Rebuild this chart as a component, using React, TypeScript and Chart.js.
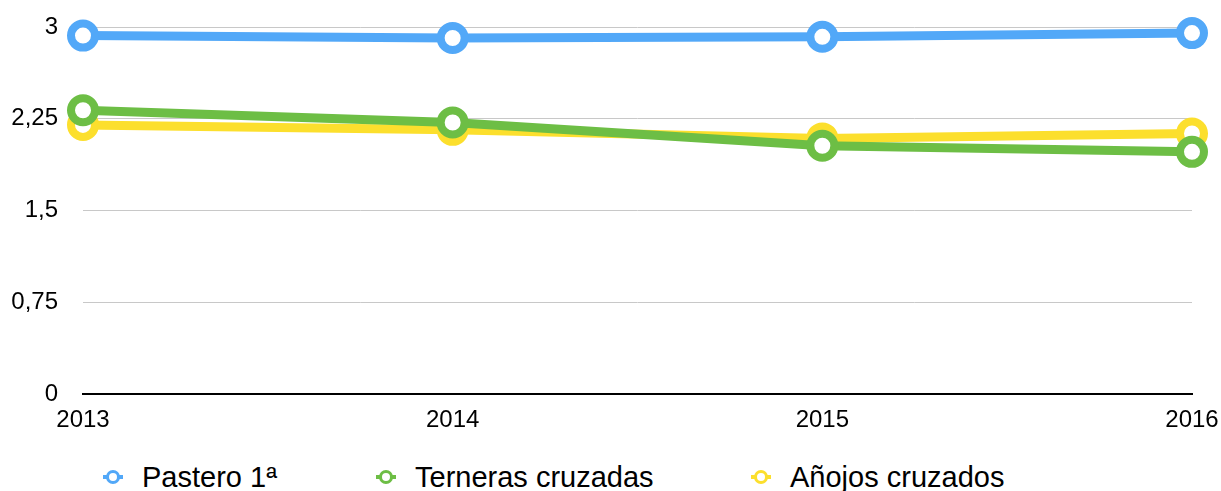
import React, { useEffect, useRef } from "react";
import { Chart, registerables } from "chart.js";

Chart.register(...registerables);

const years = ["2013", "2014", "2015", "2016"];
const pastero = [2.93, 2.91, 2.92, 2.95];
const terneras = [2.32, 2.22, 2.03, 1.98];
const anojos = [2.2, 2.16, 2.09, 2.13];
const seriesNames = ["Pastero 1ª", "Terneras cruzadas", "Añojos cruzados"];
const seriesColors = ["#52A8F8", "#6DBE45", "#FCDF2D"];
const yTicks = [0, 0.75, 1.5, 2.25, 3];

const FONT = "'Liberation Sans', Arial, Helvetica, sans-serif";
const legendTextLeft = [142, 415, 790];

export default function App() {
  const canvasRef = useRef<HTMLCanvasElement | null>(null);

  useEffect(() => {
    if (!canvasRef.current) return;
    const seriesValues = [pastero, terneras, anojos];
    const chart = new Chart(canvasRef.current, {
      type: "line",
      data: {
        labels: years,
        datasets: seriesValues.map((vals, i) => ({
          label: seriesNames[i],
          data: vals,
          borderColor: seriesColors[i],
          backgroundColor: "#ffffff",
          borderWidth: 9,
          pointRadius: 12,
          pointHoverRadius: 12,
          pointBorderWidth: 8,
          pointBackgroundColor: "#ffffff",
          pointBorderColor: seriesColors[i],
          tension: 0,
          fill: false,
          clip: false,
        })),
      },
      options: {
        animation: false,
        responsive: true,
        maintainAspectRatio: false,
        layout: { autoPadding: false, padding: { top: 27, right: 29, bottom: 21, left: 0 } },
        plugins: {
          legend: { display: false },
          tooltip: { enabled: false },
        },
        scales: {
          x: {
            type: "category",
            offset: false,
            grid: { display: false },
            border: { display: true, color: "#000000", width: 2 },
            afterFit: (scale: any) => {
              scale.paddingLeft = 0;
              scale.paddingRight = 0;
            },
            ticks: {
              color: "#000000",
              font: { family: FONT, size: 24 },
              padding: 4,
              maxRotation: 0,
              autoSkip: false,
            },
          },
          y: {
            min: 0,
            max: 3,
            afterBuildTicks: (scale: any) => {
              scale.ticks = yTicks.map((v) => ({ value: v }));
            },
            afterFit: (scale: any) => {
              scale.width = 83;
              scale.paddingTop = 0;
              scale.paddingBottom = 0;
            },
            grid: { color: "#c8c8c8", lineWidth: 1, drawTicks: false },
            border: { display: false },
            ticks: {
              color: "#000000",
              font: { family: FONT, size: 24 },
              padding: 25,
              callback: (v: any) => String(v).replace(".", ","),
            },
          },
        },
      },
    });
    return () => chart.destroy();
  }, []);

  return (
    <div
      style={{
        position: "absolute",
        left: 0,
        top: 0,
        width: 1221,
        height: 491,
        overflow: "hidden",
        background: "#fff",
      }}
    >
      <div style={{ position: "absolute", left: 0, top: 0, width: 1221, height: 460 }}>
        <canvas ref={canvasRef} />
      </div>
      {seriesNames.map((name, i) => (
        <div
          key={name}
          style={{
            position: "absolute",
            left: legendTextLeft[i] - 39,
            top: 461,
            height: 32,
            display: "flex",
            alignItems: "center",
            fontFamily: FONT,
            fontSize: 29,
            color: "#000",
            whiteSpace: "nowrap",
          }}
        >
          <span style={{ position: "relative", width: 20, height: 14, marginRight: 19, display: "inline-block" }}>
            <span
              style={{
                position: "absolute",
                left: 0,
                top: 5,
                width: 20,
                height: 4,
                background: seriesColors[i],
              }}
            />
            <span
              style={{
                position: "absolute",
                left: 3,
                top: 0,
                width: 8,
                height: 8,
                border: `3px solid ${seriesColors[i]}`,
                borderRadius: "50%",
                background: "#fff",
              }}
            />
          </span>
          <span style={{ lineHeight: "32px" }}>{name}</span>
        </div>
      ))}
    </div>
  );
}
